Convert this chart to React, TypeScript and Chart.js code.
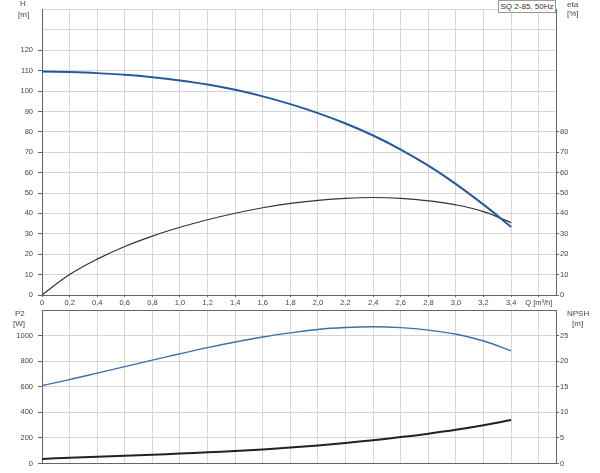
import React, { useEffect, useRef } from "react";
import { Chart, registerables } from "chart.js";

Chart.register(...registerables);

const flow = [0, 0.2, 0.4, 0.6, 0.8, 1.0, 1.2, 1.4, 1.6, 1.8, 2.0, 2.2, 2.4, 2.6, 2.8, 3.0, 3.2, 3.4];
const headH = [109.6, 109.3, 108.8, 108.0, 106.8, 105.2, 103.2, 100.6, 97.4, 93.6, 89.2, 84.1, 78.2, 71.3, 63.4, 54.4, 44.3, 33.3];
const etaPct = [0, 10, 17.6, 23.8, 28.9, 33.2, 36.9, 40.1, 42.8, 44.9, 46.4, 47.4, 47.8, 47.4, 46.2, 44.2, 40.9, 35.5];
const powerP2 = [610, 656, 706, 757, 808, 858, 906, 950, 989, 1021, 1048, 1063, 1069, 1062, 1043, 1010, 958, 881];
const npshM = [0.9, 1.12, 1.32, 1.52, 1.72, 1.94, 2.18, 2.45, 2.76, 3.12, 3.54, 4.02, 4.56, 5.16, 5.83, 6.59, 7.47, 8.49];
const xTicks = [0, 0.2, 0.4, 0.6, 0.8, 1.0, 1.2, 1.4, 1.6, 1.8, 2.0, 2.2, 2.4, 2.6, 2.8, 3.0, 3.2, 3.4, 3.6];
const hGridTicks = [0, 10, 20, 30, 40, 50, 60, 70, 80, 90, 100, 110, 120, 130, 140];
const hTicksShown = [0, 10, 20, 30, 40, 50, 60, 70, 80, 90, 100, 110, 120];
const etaTicksShown = [0, 10, 20, 30, 40, 50, 60, 70, 80];
const p2GridTicks = [0, 200, 400, 600, 800, 1000, 1200];
const p2TicksShown = [0, 200, 400, 600, 800, 1000];
const npshTicksShown = [0, 5, 10, 15, 20, 25];
const xUnitLabel = "Q [m³/h]";
const pumpLabel = "SQ 2-85, 50Hz";

const FONT = "'Liberation Sans', Arial, sans-serif";
const TXT = "#444";
const GRID = "#d6d6d6";
const BORDER = "#666";

function xLabel(v: number) {
  if (Math.abs(v - 3.6) < 1e-6) return xUnitLabel;
  if (v === 0) return "0";
  return v.toFixed(1).replace(".", ",");
}

function pts(ys: number[]) {
  return flow.map((x, i) => ({ x, y: ys[i] }));
}

function setTicks(list: number[]) {
  return (scale: any) => {
    scale.ticks = list.map((v) => ({ value: v }));
  };
}

export default function App() {
  const topRef = useRef<HTMLCanvasElement>(null);
  const botRef = useRef<HTMLCanvasElement>(null);

  useEffect(() => {
    const tickFont = { family: FONT, size: 7.5 };
    const xMax = 3.725;
    const line = (data: any, axis: string, color: string, width: number) => ({
      data,
      yAxisID: axis,
      borderColor: color,
      borderWidth: width,
      pointRadius: 0,
      tension: 0.4,
      fill: false,
    });
    const top = new Chart(topRef.current!, {
      type: "line",
      data: {
        datasets: [
          line(pts(headH), "y", "#245a9c", 2),
          line(pts(etaPct), "y1", "#333333", 1.2),
        ],
      },
      options: {
        animation: false,
        responsive: false,
        devicePixelRatio: 1,
        layout: { padding: 0 },
        plugins: { legend: { display: false }, tooltip: { enabled: false } },
        scales: {
          x: {
            type: "linear",
            min: 0,
            max: xMax,
            afterBuildTicks: setTicks(xTicks),
            afterFit: (s: any) => { s.height = 15; },
            grid: { color: GRID, tickLength: 2, tickColor: BORDER },
            border: { color: BORDER },
            ticks: { font: tickFont, color: TXT, padding: 1, maxRotation: 0, autoSkip: false, callback: (v: any) => xLabel(Number(v)) },
          },
          y: {
            type: "linear",
            position: "left",
            min: 0,
            max: 140,
            afterBuildTicks: setTicks(hGridTicks),
            afterFit: (s: any) => { s.width = 42; },
            grid: { color: GRID, tickLength: 4, tickColor: (c: any) => (hTicksShown.includes(c.tick?.value) ? BORDER : "rgba(0,0,0,0)") },
            border: { color: BORDER },
            ticks: { font: tickFont, color: TXT, padding: 5, autoSkip: false, callback: (v: any) => (hTicksShown.includes(Number(v)) ? String(v) : "") },
          },
          y1: {
            type: "linear",
            position: "right",
            min: 0,
            max: 140,
            afterBuildTicks: setTicks(etaTicksShown),
            afterFit: (s: any) => { s.width = 44; },
            grid: { drawOnChartArea: false, tickLength: 3, tickColor: BORDER },
            border: { color: BORDER },
            ticks: { font: tickFont, color: TXT, padding: 1, autoSkip: false, callback: (v: any) => String(v) },
          },
        },
      },
    } as any);

    const bot = new Chart(botRef.current!, {
      type: "line",
      data: {
        datasets: [
          line(pts(powerP2), "y", "#3a6fb3", 1.4),
          line(pts(npshM), "y1", "#222222", 2),
        ],
      },
      options: {
        animation: false,
        responsive: false,
        devicePixelRatio: 1,
        layout: { padding: { top: 10, left: 0, right: 0, bottom: 0 } },
        plugins: { legend: { display: false }, tooltip: { enabled: false } },
        scales: {
          x: {
            type: "linear",
            min: 0,
            max: xMax,
            afterBuildTicks: setTicks(xTicks),
            afterFit: (s: any) => { s.height = 7; },
            grid: { color: GRID, drawTicks: false },
            border: { color: BORDER },
            ticks: { display: false },
          },
          xTop: {
            type: "linear",
            position: "top",
            min: 0,
            max: xMax,
            afterFit: (s: any) => { s.height = 0; },
            grid: { display: false, drawTicks: false },
            border: { color: BORDER },
            ticks: { display: false },
          },
          y: {
            type: "linear",
            position: "left",
            min: 0,
            max: 1200,
            afterBuildTicks: setTicks(p2GridTicks),
            afterFit: (s: any) => { s.width = 42; },
            grid: { color: GRID, tickLength: 4, tickColor: (c: any) => (p2TicksShown.includes(c.tick?.value) ? BORDER : "rgba(0,0,0,0)") },
            border: { color: BORDER },
            ticks: { font: tickFont, color: TXT, padding: 5, autoSkip: false, callback: (v: any) => (p2TicksShown.includes(Number(v)) ? String(v) : "") },
          },
          y1: {
            type: "linear",
            position: "right",
            min: 0,
            max: 30,
            afterBuildTicks: setTicks(npshTicksShown),
            afterFit: (s: any) => { s.width = 44; },
            grid: { drawOnChartArea: false, tickLength: 3, tickColor: BORDER },
            border: { color: BORDER },
            ticks: { font: tickFont, color: TXT, padding: 1, autoSkip: false, callback: (v: any) => String(v) },
          },
        },
      },
    } as any);

    return () => {
      top.destroy();
      bot.destroy();
    };
  }, []);

  const lbl = (text: string, left: number, topPx: number) => (
    <div
      style={{
        position: "absolute",
        left,
        top: topPx,
        font: `8px ${FONT}`,
        color: TXT,
        lineHeight: "8px",
        whiteSpace: "nowrap",
      }}
    >
      {text}
    </div>
  );

  return (
    <div style={{ position: "absolute", left: 0, top: 0, width: 600, height: 473, background: "#fff", overflow: "hidden" }}>
      <canvas ref={topRef} width={600} height={310} style={{ position: "absolute", left: 0, top: 0, width: 600, height: 310 }} />
      <canvas ref={botRef} width={600} height={173} style={{ position: "absolute", left: 0, top: 300, width: 600, height: 173 }} />
      {lbl("H", 20, 0)}
      {lbl("[m]", 18, 11)}
      {lbl("eta", 567, 1)}
      {lbl("[%]", 567, 10)}
      {lbl("P2", 15, 310)}
      {lbl("[W]", 13, 320)}
      {lbl("NPSH", 567, 310)}
      {lbl("[m]", 572, 320)}
      <div
        style={{
          position: "absolute",
          left: 498,
          top: 0,
          width: 56,
          height: 11,
          border: "1px solid #999",
          background: "#fff",
          font: `8px ${FONT}`,
          color: "#333",
          lineHeight: "11px",
          textAlign: "center",
          whiteSpace: "nowrap",
        }}
      >
        {pumpLabel}
      </div>
    </div>
  );
}
